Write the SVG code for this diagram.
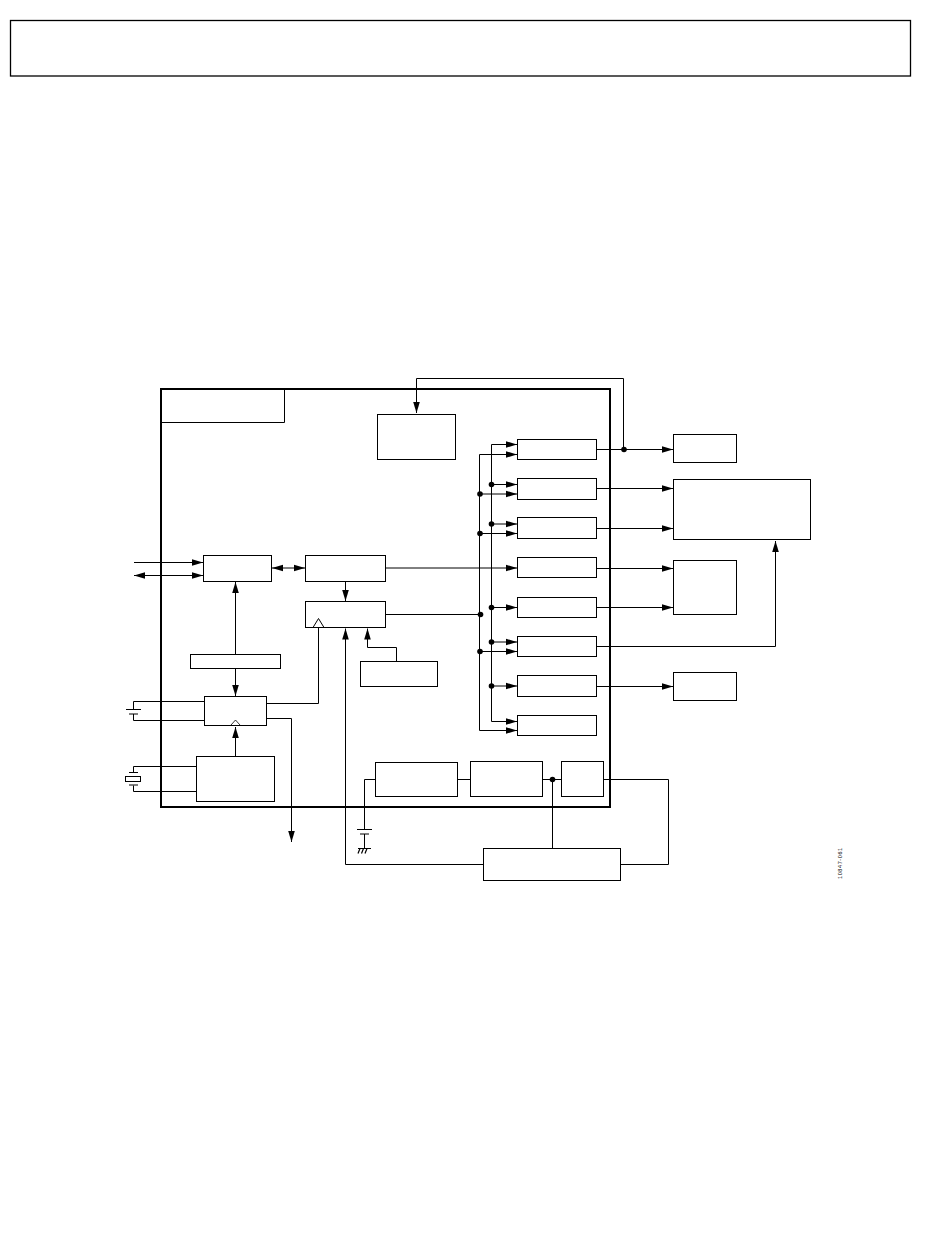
<svg xmlns="http://www.w3.org/2000/svg" width="950" height="1254" viewBox="0 0 950 1254">
<style>
rect.n{fill:#fff;stroke:#000;stroke-width:1}
.c{fill:none;stroke:#000;stroke-width:1}
.a{marker-end:url(#ah)}
.b{marker-start:url(#as);marker-end:url(#ah)}
circle{fill:#000;stroke:none}
</style>
<defs>
<marker id="ah" markerUnits="userSpaceOnUse" markerWidth="11" markerHeight="9" refX="11" refY="4.5" orient="auto"><path d="M0 1.2 L11 4.5 L0 7.8 Z" fill="#000"/></marker>
<marker id="as" markerUnits="userSpaceOnUse" markerWidth="11" markerHeight="9" refX="0" refY="4.5" orient="auto"><path d="M11 1.2 L0 4.5 L11 7.8 Z" fill="#000"/></marker>
</defs>
<rect width="950" height="1254" fill="#fff"/>
<g id="page-header"><rect x="10.5" y="20.5" width="900" height="55.5" fill="none" stroke="#000" stroke-width="1.3"/></g>
<g id="chip"><rect x="161" y="389" width="449" height="418" fill="none" stroke="#000" stroke-width="2"/><path class="c" d="M284.5 389V422.5H161"/></g>
<g id="connectors">
<path class="c" d="M416.5 378.5H623.5V449.5"/>
<path class="c a" d="M416.5 378.5V413"/>
<path class="c a" d="M134 562.5H203"/>
<path class="c b" d="M134 575.5H203"/>
<path class="c b" d="M272 568H305"/>
<path class="c a" d="M345.5 581.5V601"/>
<path class="c a" d="M235.5 654.5V582"/>
<path class="c a" d="M235.5 668.5V696"/>
<path class="c a" d="M235.5 756.5V727"/>
<path class="c" d="M266.5 703.5H318.5V627"/>
<path class="c a" d="M266.5 718.5H291.5V842"/>
<path class="c a" d="M396.5 661.5V647.5H367.5V628.5"/>
<path class="c a" d="M483.5 864.5H345.5V628.5"/>
<path class="c" d="M204.5 701.5H133.5V709M133.5 714V720.5H204.5M126 709.5H141M129 714H138"/>
<path class="c" d="M196.5 766.5H133.5V772M133.5 785.5V791.5H196.5M129 772.5H138M129 785H138"/>
<rect class="n" x="125.5" y="776.5" width="15" height="5"/>
<path class="c" d="M375.5 779.5H364.5V830M364.5 834V849M357 829.5H372M360 834H369M358 848.5H371"/>
<path d="M358 853.5L360 848.5M361.5 853.5L363.5 848.5M365 853.5L367 848.5" fill="none" stroke="#000" stroke-width="1.2"/>
<path class="c" d="M457.5 779.5H470.5M542.5 779.5H561.5M552.5 779.5V848.5M603.5 779.5H668.5V864.5H620.5"/>
<path class="c a" d="M491.5 721.5V444.5H517"/>
<path class="c a" d="M479.5 730.5V454.5H517"/>
<path class="c a" d="M491.5 721.5H517"/>
<path class="c a" d="M479.5 730.5H517"/>
<path class="c a" d="M491.5 484.5H517"/>
<path class="c a" d="M479.5 494H517"/>
<path class="c a" d="M491.5 524H517"/>
<path class="c a" d="M479.5 533.5H517"/>
<path class="c a" d="M385.5 568H517"/>
<path class="c" d="M385.5 614.5H479.5"/>
<path class="c a" d="M491.5 607.5H517"/>
<path class="c a" d="M491.5 642H517"/>
<path class="c a" d="M479.5 651.5H517"/>
<path class="c a" d="M491.5 686H517"/>
<path class="c a" d="M596.5 449.5H673"/>
<path class="c a" d="M596.5 488.5H673"/>
<path class="c a" d="M596.5 528.5H673"/>
<path class="c a" d="M596.5 568.5H673"/>
<path class="c a" d="M596.5 607.5H673"/>
<path class="c a" d="M596.5 646.5H775.5V541"/>
<path class="c a" d="M596.5 686.5H673"/>
<circle cx="624" cy="449.5" r="2.8"/>
<circle cx="491.5" cy="484.5" r="2.8"/><circle cx="480" cy="494" r="2.8"/>
<circle cx="491.5" cy="524" r="2.8"/><circle cx="480" cy="533.5" r="2.8"/>
<circle cx="480.5" cy="614.5" r="2.8"/><circle cx="491.5" cy="607.5" r="2.8"/>
<circle cx="491.5" cy="642" r="2.8"/><circle cx="480" cy="651.5" r="2.8"/>
<circle cx="491.5" cy="686" r="2.8"/><circle cx="552.5" cy="779.5" r="2.8"/>
</g>
<g id="n-top"><rect class="n" x="377.5" y="414.5" width="78" height="45"/></g>
<g id="n-a"><rect class="n" x="203.5" y="555.5" width="68" height="26"/></g>
<g id="n-b"><rect class="n" x="305.5" y="555.5" width="80" height="26"/></g>
<g id="n-c"><rect class="n" x="305.5" y="601.5" width="80" height="26"/><path d="M313 627.5L318.5 618.5L324 627.5" fill="none" stroke="#000"/></g>
<g id="n-bar"><rect class="n" x="190.5" y="654.5" width="90" height="14"/></g>
<g id="n-d"><rect class="n" x="204.5" y="696.5" width="62" height="29"/><path d="M231 725L235.5 720L240 725" fill="none" stroke="#000" stroke-width=".8"/></g>
<g id="n-e"><rect class="n" x="196.5" y="756.5" width="78" height="45"/></g>
<g id="n-f"><rect class="n" x="360.5" y="661.5" width="77" height="25"/></g>
<g id="n-g"><rect class="n" x="375.5" y="762.5" width="82" height="34"/></g>
<g id="n-h"><rect class="n" x="470.5" y="761.5" width="72" height="35"/></g>
<g id="n-i"><rect class="n" x="561.5" y="761.5" width="42" height="35"/></g>
<g id="n-j"><rect class="n" x="483.5" y="848.5" width="137" height="32"/></g>
<g id="o1"><rect class="n" x="517.5" y="439.5" width="79" height="20"/></g>
<g id="o2"><rect class="n" x="517.5" y="478.5" width="79" height="21"/></g>
<g id="o3"><rect class="n" x="517.5" y="517.5" width="79" height="21"/></g>
<g id="o4"><rect class="n" x="517.5" y="557.5" width="79" height="20"/></g>
<g id="o5"><rect class="n" x="517.5" y="597.5" width="79" height="20"/></g>
<g id="o6"><rect class="n" x="517.5" y="636.5" width="79" height="20"/></g>
<g id="o7"><rect class="n" x="517.5" y="675.5" width="79" height="21"/></g>
<g id="o8"><rect class="n" x="517.5" y="715.5" width="79" height="20"/></g>
<g id="r1"><rect class="n" x="673.5" y="434.5" width="63" height="28"/></g>
<g id="r2"><rect class="n" x="673.5" y="479.5" width="137" height="60"/></g>
<g id="r3"><rect class="n" x="673.5" y="560.5" width="63" height="54"/></g>
<g id="r4"><rect class="n" x="673.5" y="672.5" width="63" height="28"/></g>
<text transform="translate(842,879) rotate(-90)" font-family="'Liberation Sans',Arial,sans-serif" font-size="5.5" letter-spacing="0.6" fill="#000">10847-061</text>
</svg>
